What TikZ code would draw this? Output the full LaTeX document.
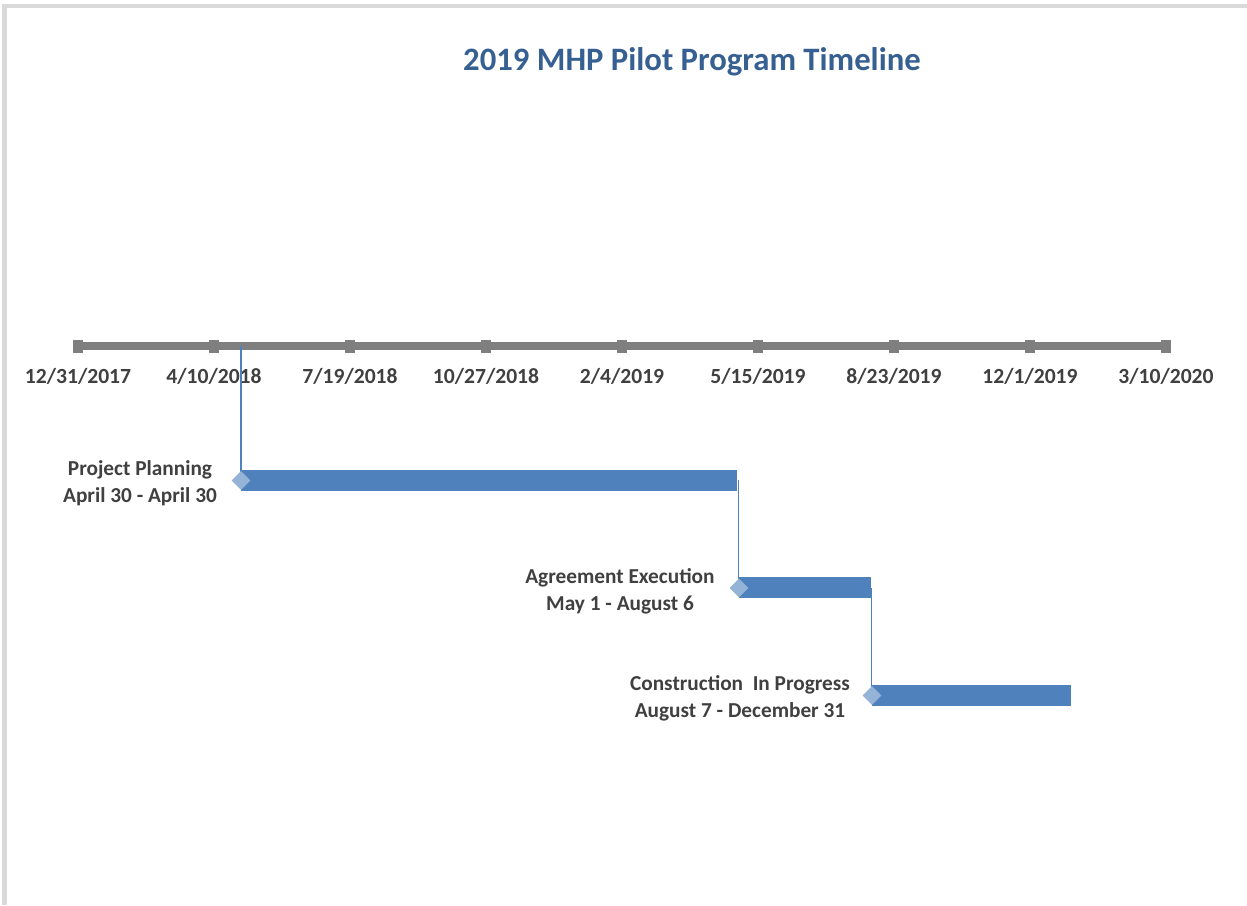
\documentclass[tikz,border=0pt]{standalone}
\usepackage{fontspec}
\setmainfont{Carlito}
\usetikzlibrary{shapes.geometric}
\definecolor{titleblue}{RGB}{55,96,146}
\definecolor{axisgray}{RGB}{127,127,127}
\definecolor{txtgray}{RGB}{64,64,64}
\definecolor{barblue}{RGB}{79,129,189}
\definecolor{diablue}{RGB}{149,179,215}
\definecolor{framegray}{RGB}{217,217,217}
\tikzset{
  ticklab/.style={font=\bfseries\fontsize{21.6}{24}\selectfont, text=txtgray, inner sep=0pt},
  tasklab/.style={font=\bfseries\fontsize{21.3}{27}\selectfont, text=txtgray, align=center, inner sep=0pt},
  tickmark/.style={fill=axisgray, minimum width=10pt, minimum height=13pt, inner sep=0pt},
  taskbar/.style={fill=barblue, draw=none},
  milestone/.style={diamond, fill=diablue, draw=none, minimum width=19pt, minimum height=19pt, inner sep=0pt},
  link/.style={draw=barblue, line width=1.3pt}
}
\begin{document}
\begin{tikzpicture}[x=1pt,y=-1pt]
\useasboundingbox (0,0) rectangle (1247,905);
% frame
\fill[framegray] (2,4) rectangle (1247,8);
\fill[framegray] (2,4) rectangle (7,905);
% title
\node[font=\bfseries\fontsize{32.7}{38}\selectfont, text=titleblue, inner sep=0pt] (title) at (692,62) {2019 MHP Pilot Program Timeline};
% axis
\draw[axisgray, line width=8.5pt] (78,346) -- (1166,346);
\foreach \i/\lab in {0/12\slash 31\slash 2017,1/4\slash 10\slash 2018,2/7\slash 19\slash 2018,3/10\slash 27\slash 2018,4/2\slash 4\slash 2019,5/5\slash 15\slash 2019,6/8\slash 23\slash 2019,7/12\slash 1\slash 2019,8/3\slash 10\slash 2020}{
  \node[tickmark] (t\i) at ({78+136*\i},346) {};
  \node[ticklab] (l\i) at ({78+136*\i},376) {\lab};
}
% links
\coordinate (a0) at (241,346);
\draw[link] (a0) -- (241,480);
% bars
\fill[taskbar] (241,470) rectangle (737,491);
\fill[taskbar] (739,577) rectangle (871,598);
\fill[taskbar] (872,685) rectangle (1071,706);
\draw[link] (738.5,480) -- (738.5,588);
\draw[link] (871.5,588) -- (871.5,695);
% milestones
\node[milestone] (m1) at (241,480.5) {};
\node[milestone] (m2) at (739,588) {};
\node[milestone] (m3) at (872,695.5) {};
% labels
\node[tasklab] (p1) at (140,483) {Project Planning\\April 30 - April 30};
\node[tasklab] (p2) at (620,591) {Agreement Execution\\May 1 - August 6};
\node[tasklab] (p3) at (740,698) {Construction\ \ In Progress\\August 7 - December 31};
\end{tikzpicture}
\end{document}
